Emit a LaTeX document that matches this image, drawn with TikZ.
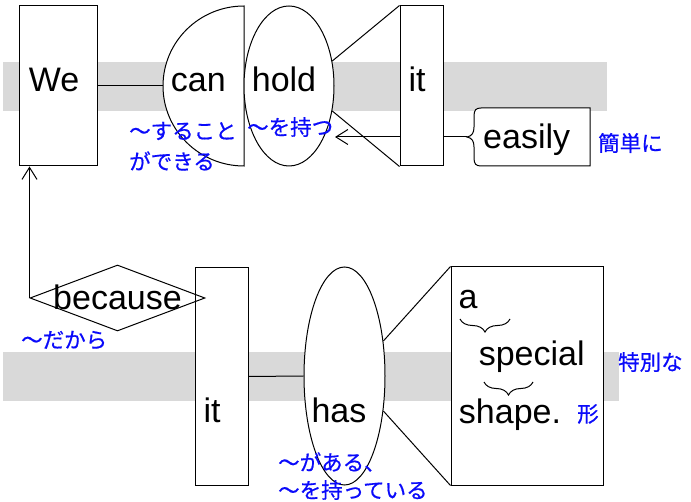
\documentclass[tikz,border=0pt]{standalone}
\usepackage{fontspec}
\setmainfont{Liberation Sans}
\newfontfamily\jpfont[FakeBold=0.6]{Noto Sans CJK JP}
\usetikzlibrary{shapes.geometric,arrows.meta,decorations.pathreplacing}
\definecolor{jpblue}{RGB}{10,10,250}
\definecolor{bandgray}{RGB}{217,217,217}
\begin{document}
\begin{tikzpicture}[x=1pt,y=-1pt,
  box/.style={draw, fill=white, line width=1pt, inner sep=0pt, rectangle},
  oval/.style={draw, fill=white, ellipse, inner sep=0pt, line width=1pt},
  dia/.style={draw, diamond, inner sep=0pt, line width=1pt},
  word/.style={font=\fontsize{34}{40}\selectfont, anchor=base, inner sep=0pt},
  gloss/.style={font=\jpfont\fontsize{21.5}{29}\selectfont, text=jpblue, anchor=west, inner sep=0pt},
  band/.style={fill=bandgray, draw=none},
  conn/.style={line width=1pt},
  arr/.style={conn, -{Straight Barb[length=12pt,width=15pt]}},
  brc/.style={conn, decorate, decoration={brace, mirror, amplitude=13pt}}]
\useasboundingbox (0,0) rectangle (691,502);
% bands
\fill[band] (3,62) rectangle (607,111);
\fill[band] (3,352) rectangle (619,401);
% top clause
\node[box, minimum width=78pt, minimum height=160pt] (we) at (58,86) {};
\draw[conn, fill=white] (244,166) arc[start angle=90, end angle=270, x radius=81, y radius=80] -- cycle;
\coordinate (canW) at (163,86);
\node[oval, minimum width=90pt, minimum height=160pt] (hold) at (289,86) {};
\node[box, minimum width=43pt, minimum height=160pt] (itA) at (421.5,86) {};
\draw[conn, fill=white] (590,108) -- (481,108)
  .. controls (476,108) and (474,110) .. (474,116) -- (474,127)
  .. controls (474,133) and (472,136) .. (467,137)
  .. controls (472,138) and (474,141) .. (474,147) -- (474,158)
  .. controls (474,164) and (476,166) .. (481,166) -- (590,166) -- cycle;
\coordinate (easilyW) at (467,137);
\coordinate (holdtip) at (335,137);
% bottom clause
\node[box, minimum width=53pt, minimum height=217pt] (itB) at (221.5,376.5) {};
\node[dia, minimum width=175pt, minimum height=66pt] (because) at (117.5,298) {};
\node[oval, minimum width=81pt, minimum height=218pt] (has) at (344.5,376) {};
\node[box, minimum width=152pt, minimum height=218pt] (shapebox) at (527,376) {};
% connectors
\draw[conn] (we.east) -- (canW);
\draw[conn] (hold.30) -- (itA.north west);
\draw[conn] (hold.-30) -- (itA.south west);
\draw[arr] (itA.west |- easilyW) -- (holdtip);
\draw[conn] (itA.east |- easilyW) -- (easilyW);
\draw[arr] (because.west) -- (because.west |- we.south);
\draw[conn] (itB.east) -- (has.west);
\draw[conn] (has.42) -- (shapebox.north west);
\draw[conn] (has.-42) -- (shapebox.south west);
\draw[brc] (460,319) -- (510,319);
\draw[brc] (484,382) -- (533,382);
% words
\node[word] (tWe) at (54,92) {We};
\node[word] (tcan) at (198.3,92) {can};
\node[word] (thold) at (284,92) {hold};
\node[word] (tit1) at (417,92) {it};
\node[word] (teasily) at (526.7,149) {easily};
\node[word] (tbecause) at (117.5,310) {because};
\node[word] (tit2) at (212,423) {it};
\node[word] (thas) at (339,423) {has};
\node[word] (ta) at (468,309) {a};
\node[word] (tspecial) at (531.7,366) {special};
\node[word] (tshape) at (510,424) {shape.};
% glosses
\node[gloss] (g1) at (129,131) {〜すること};
\node[gloss] (g2) at (129,161) {ができる};
\node[gloss] (g3) at (247,127) {〜を持つ};
\node[gloss] (g4) at (598,143) {簡単に};
\node[gloss] (g5) at (21,340) {〜だから};
\node[gloss] (g6) at (278,462) {〜がある、};
\node[gloss] (g7) at (278,490) {〜を持っている};
\node[gloss] (g8) at (618,362) {特別な};
\node[gloss] (g9) at (577,414) {形};
\end{tikzpicture}
\end{document}
